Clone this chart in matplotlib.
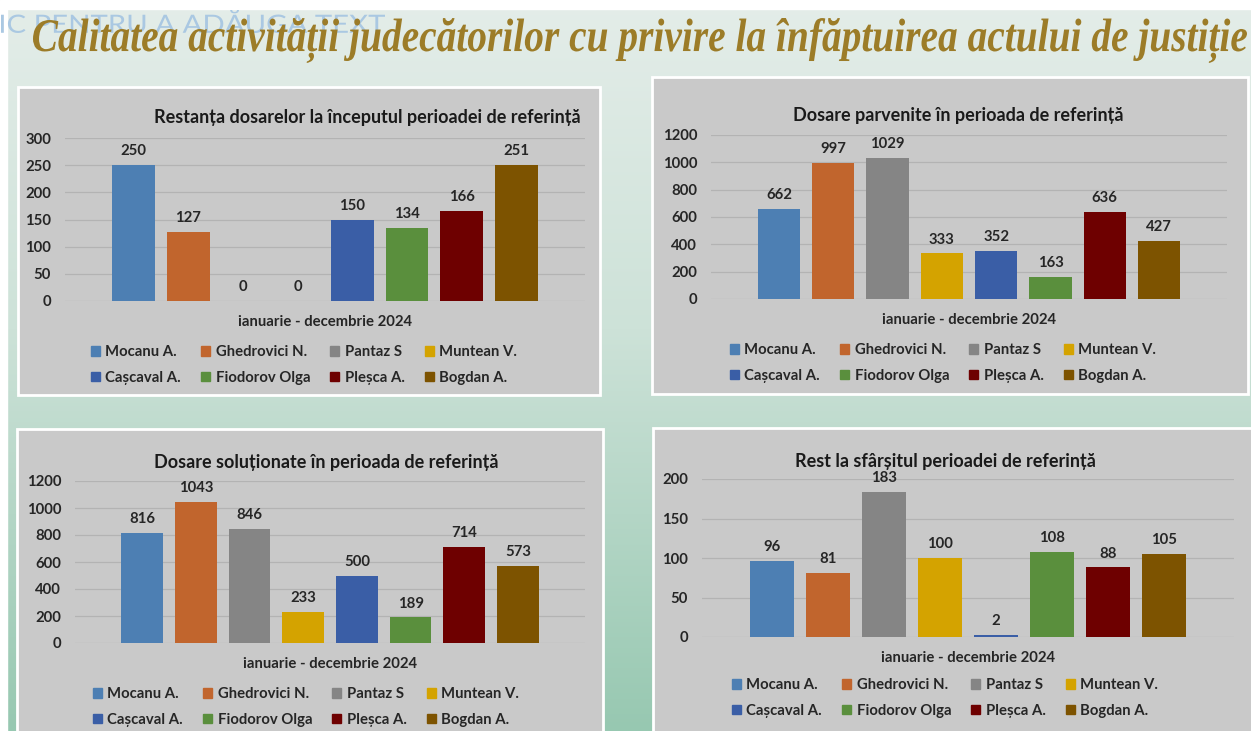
import numpy as np
import matplotlib
matplotlib.use("Agg")
import matplotlib.pyplot as plt
from matplotlib.colors import LinearSegmentedColormap
from matplotlib.patches import Rectangle, PathPatch
from matplotlib.textpath import TextPath
from matplotlib.font_manager import FontProperties
from matplotlib.transforms import Affine2D

plt.rcParams['font.family'] = ['Lato', 'DejaVu Sans']

# ---- data ----
judges = ["Mocanu A.", "Ghedrovici N.", "Pantaz S", "Muntean V.",
          "Cașcaval A.", "Fiodorov Olga", "Pleșca A.", "Bogdan A."]
judge_colors = ["#4d7fb3", "#c1652d", "#858585", "#d4a300",
                "#3a5ea6", "#5a8f3d", "#6e0000", "#7d5300"]

restanta = [250, 127, 0, 0, 150, 134, 166, 251]
parvenite = [662, 997, 1029, 333, 352, 163, 636, 427]
solutionate = [816, 1043, 846, 233, 500, 189, 714, 573]
rest_final = [96, 81, 183, 100, 2, 108, 88, 105]

titles = ["Restanța dosarelor la începutul perioadei de referință",
          "Dosare parvenite în perioada de referință",
          "Dosare soluționate în perioada de referință",
          "Rest la sfârșitul perioadei de referință"]
yticks_list = [np.arange(0, 301, 50), np.arange(0, 1201, 200),
               np.arange(0, 1201, 200), np.arange(0, 201, 50)]
period = "ianuarie - decembrie 2024"
slide_title = "Calitatea activității judecătorilor cu privire la înfăptuirea actului de justiție"
ghost_text = "IC PENTRU A ADĂUGA TEXT"

# ---- layout (pixels, origin top-left) ----
W, H = 1251, 731
layout = [
    # frame box, axes box, title center, legend anchor
    dict(frame=(18, 87, 600, 395), ax=(65, 138, 585, 301), title=(367, 118), leg=(91, 345)),
    dict(frame=(652, 77, 1248, 394), ax=(711, 135, 1227, 299), title=(958, 116), leg=(730, 343)),
    dict(frame=(17, 429, 603, 735), ax=(75, 481, 585, 643), title=(326, 463), leg=(93, 687)),
    dict(frame=(653, 428, 1253, 735), ax=(702, 479, 1234, 637), title=(945, 462), leg=(732, 678)),
]

FS = 10.7
TXT = '#262626'


def fx(x):
    return x / W


def fy(y):
    return 1 - y / H


def stretched_text(fig, s, x0, x1, y_top, y_bot, color, prop, z):
    tp = TextPath((0, 0), s, size=100, prop=prop)
    ext = tp.get_extents()
    sx = (x1 - x0) / ext.width
    sy = (y_bot - y_top) / ext.height
    tr = Affine2D().translate(-ext.x0, -ext.y0).scale(sx, sy).translate(x0, H - y_bot)
    fig.add_artist(PathPatch(tp, facecolor=color, edgecolor='none', transform=tr, zorder=z))


fig = plt.figure(figsize=(W / 100, H / 100), dpi=100)

# background gradient
bg = fig.add_axes([0, 0, 1, 1], zorder=-5)
cmap = LinearSegmentedColormap.from_list("bg", [(0, "#e4ede9"), (0.45, "#cde2d8"), (1, "#97c8b1")])
bg.imshow(np.linspace(0, 1, 256).reshape(-1, 1), aspect='auto', cmap=cmap, extent=[0, 1, 0, 1])
bg.set_xlim(0, 1)
bg.set_ylim(0, 1)
bg.axis('off')
bg.add_patch(Rectangle((0, 0), fx(7), 1, color='white', transform=bg.transAxes))
bg.add_patch(Rectangle((0, fy(9)), 1, 9 / H, color='white', transform=bg.transAxes))

# slide title + ghost placeholder text
stretched_text(fig, ghost_text, 1, 385, 10, 33, "#aac8e2",
               FontProperties(family='Lato'), 1)
stretched_text(fig, slide_title, 33, 1247, 18, 63, "#9c7c28",
               FontProperties(family='Liberation Serif', weight='bold', style='italic'), 2)

series = [restanta, parvenite, solutionate, rest_final]
order = [0, 4, 1, 5, 2, 6, 3, 7]

for vals, title, yticks, lay in zip(series, titles, yticks_list, layout):
    x0, y0, x1, y1 = lay["frame"]
    fig.add_artist(Rectangle((fx(x0), fy(y1)), fx(x1 - x0), (y1 - y0) / H,
                             transform=fig.transFigure, facecolor="#c9c9c9",
                             edgecolor="white", lw=2, zorder=1))

    a0, b0, a1, b1 = lay["ax"]
    ax = fig.add_axes([fx(a0), fy(b1), fx(a1 - a0), (b1 - b0) / H], zorder=2)
    ax.patch.set_alpha(0)
    xs = np.arange(len(vals))
    bars = ax.bar(xs, vals, width=0.78, color=judge_colors, zorder=3)
    ax.bar_label(bars, padding=5, fontsize=FS, fontweight='bold', color=TXT)

    ax.set_xlim(-1.25, 8.25)
    ax.set_ylim(0, yticks[-1])
    ax.set_yticks(yticks)
    ax.set_xticks([])
    ax.tick_params(axis='y', length=0, pad=10, labelsize=FS, labelcolor=TXT)
    for lbl in ax.get_yticklabels():
        lbl.set_fontweight('bold')
    ax.grid(axis='y', color='#b3b3b3', lw=0.9, zorder=0)
    for sp in ax.spines.values():
        sp.set_visible(False)

    ax.annotate(period, xy=(0.5, 0), xycoords='axes fraction', xytext=(0, -15),
                textcoords='offset points', ha='center', va='center',
                fontsize=FS, fontweight='bold', color=TXT)

    tx, ty = lay["title"]
    fig.text(fx(tx), fy(ty), title, ha='center', va='center', fontsize=13,
             fontweight='bold', color='#1a1a1a', zorder=5)

    handles = [Rectangle((0, 0), 1, 1, color=judge_colors[i]) for i in order]
    labels = [judges[i] for i in order]
    lx, ly = lay["leg"]
    ax.legend(handles, labels, ncol=4, loc='upper left',
              bbox_to_anchor=(fx(lx), fy(ly)), bbox_transform=fig.transFigure,
              frameon=False, prop=dict(size=FS, weight='bold'),
              labelcolor=TXT, handlelength=0.62, handleheight=0.62,
              handletextpad=0.35, columnspacing=1.35, labelspacing=0.8,
              borderpad=0, borderaxespad=0)

fig.savefig("out.png", dpi=100)
